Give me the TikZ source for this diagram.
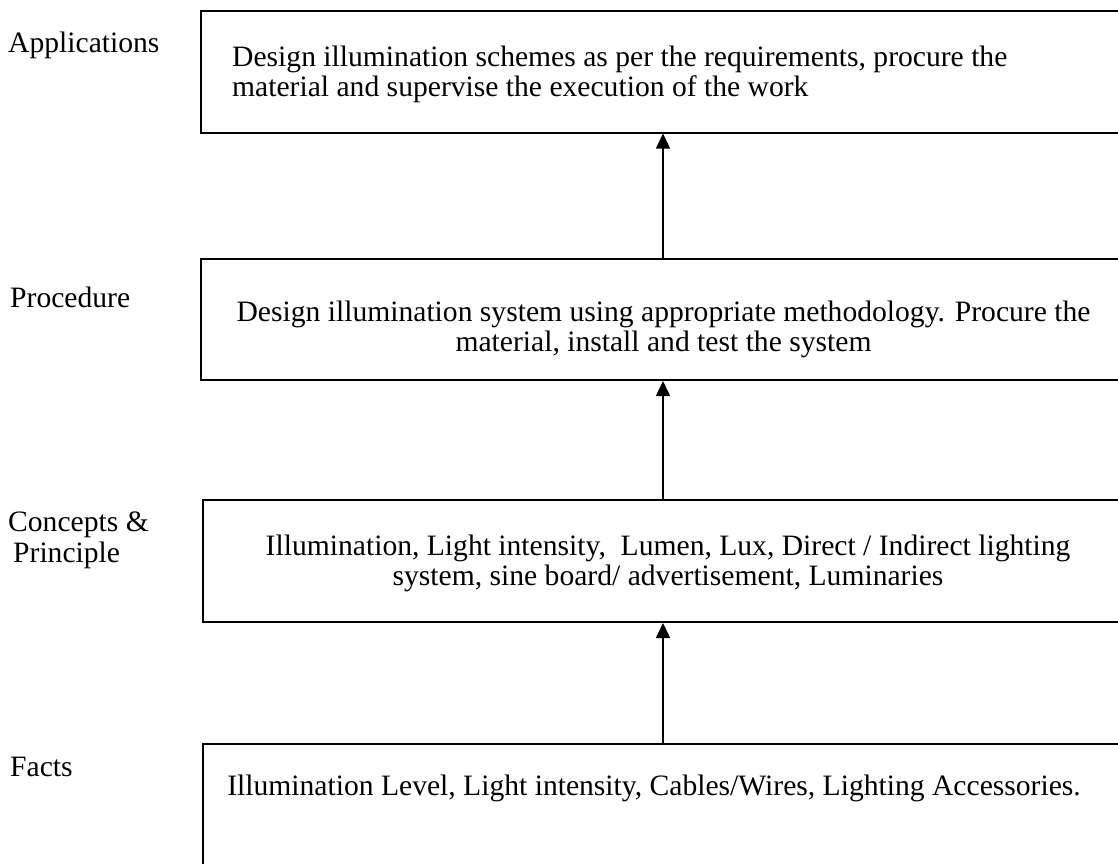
\documentclass[tikz,border=0pt]{standalone}
\usepackage{fontspec}
\setmainfont{Liberation Serif}
\usetikzlibrary{arrows.meta}

\tikzset{
  level/.style={draw, line width=2pt, inner sep=0pt, anchor=north west},
  body/.style={inner sep=0pt, font=\fontsize{29.6}{30}\selectfont},
  tag/.style={inner sep=0pt, anchor=base west, font=\fontsize{29.6}{34}\selectfont},
  up/.style={line width=1.6pt, -{Triangle[width=14pt,length=15pt]}}
}

\begin{document}
\begin{tikzpicture}[x=1pt,y=-1pt]
  \useasboundingbox (0,0) rectangle (1118,863);
  \clip (0,0) rectangle (1118,863);

  % level boxes, top to bottom (all centred on the same vertical line)
  \node[level, minimum width=924pt, minimum height=122pt] (b1) at (200,9.5) {};
  \node[level, minimum width=925pt, minimum height=121pt] (b2) at (199.5,258) {};
  \node[level, minimum width=920pt, minimum height=122pt] (b3) at (202,499) {};
  \node[level, minimum width=920pt, minimum height=140pt] (b4) at (202,743) {};

  % box contents
  \node[body, anchor=west, align=left] (t1) at (232,74)
    {Design illumination schemes as per the requirements, procure the\\
     material and supervise the execution of the work};
  \node[body, align=center] (t2) at (663.5,329)
    {Design illumination system using appropriate methodology. Procure the\\
     material, install and test the system};
  \node[body, align=center] (t3) at (668,563)
    {Illumination, Light intensity,\ \ Lumen, Lux, Direct / Indirect lighting\\
     system, sine board/ advertisement, Luminaries};
  \node[body, anchor=base] (t4) at (654,795)
    {Illumination Level, Light intensity, Cables/Wires, Lighting Accessories.};

  % level names on the left
  \node[tag] (l1) at (8,52) {Applications};
  \node[tag] (l2) at (10,307) {Procedure};
  \node[tag] (l3a) at (8,531) {Concepts \&};
  \node[tag] (l3b) at (13,562) {Principle};
  \node[tag] (l4) at (10,776) {Facts};

  % upward arrows between levels
  \draw[up] (b4.north) -- (b3.south);
  \draw[up] (b3.north) -- (b2.south);
  \draw[up] (b2.north) -- (b1.south);
\end{tikzpicture}
\end{document}
